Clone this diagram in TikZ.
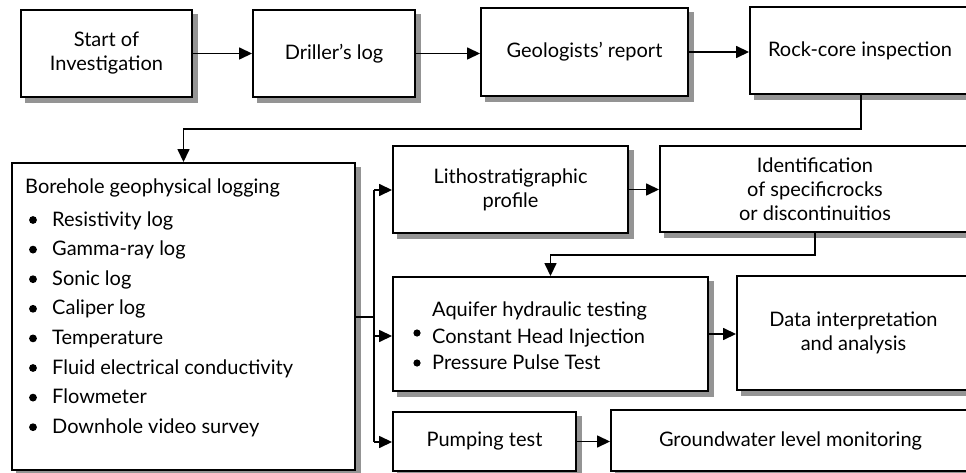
\documentclass[tikz,border=0pt]{standalone}
\usepackage{fontspec}
\setmainfont{Lato}
\usetikzlibrary{arrows.meta}
\pgfdeclarelayer{bg}
\pgfsetlayers{bg,main}
\newcommand\fsz{\fontsize{20}{24}\selectfont}
\begin{document}
\begin{tikzpicture}[x=1pt,y=-1pt,
  box/.style={draw, fill=white, line width=1.9pt, inner sep=0pt, align=center, font=\fsz},
  txt/.style={inner sep=0pt, font=\fsz},
  conn/.style={line width=1.5pt, -{Triangle[length=13pt,width=12pt]}},
  wire/.style={line width=1.5pt},
  shade/.style={fill=black!42},
  dot/.style={fill=black}
]
\useasboundingbox (0,0) rectangle (966,473);
\clip (0,0) rectangle (966,473);

% boxes
\node[box, minimum width=171pt, minimum height=87pt] (start) at (106.5,53.5) {Start of\\Investigation};
\node[box, minimum width=162pt, minimum height=87pt] (driller) at (334,53.5) {Driller's log};
\node[box, minimum width=207pt, minimum height=88pt] (geol) at (584.5,52) {Geologists' report};
\node[box, minimum width=220pt, minimum height=87pt] (rock) at (860,50.5) {Rock-core inspection};
\node[box, minimum width=343pt, minimum height=307pt] (bore) at (183.5,316.5) {};
\node[box, minimum width=235pt, minimum height=87pt] (litho) at (510.5,189.5) {Lithostratigraphic\\profile};
\node[box, minimum width=310pt, minimum height=86pt] (ident) at (815,189) {Identification\\of specificrocks\\or discontinuitios};
\node[box, minimum width=315pt, minimum height=114pt] (aqui) at (550.5,334) {};
\node[box, minimum width=233pt, minimum height=114pt] (data) at (853.5,333) {Data interpretation\\and analysis};
\node[box, minimum width=183pt, minimum height=59pt] (pump) at (484.5,441.5) {Pumping test};
\node[box, minimum width=359pt, minimum height=61pt] (ground) at (790.5,440.5) {Groundwater level monitoring};

% shadows
\begin{pgfonlayer}{bg}
\fill[white] (0,0) rectangle (966,473);
\foreach \n in {start,driller,geol,rock,bore,litho,ident,aqui,data,pump,ground}{
  \fill[shade] ([shift={(5,5)}]\n.north west) rectangle ([shift={(5,5)}]\n.south east);
}
\end{pgfonlayer}

% borehole text
\node[txt, anchor=base west] (bhtitle) at (25,194) {Borehole geophysical logging};
\foreach \t [count=\i] in {Resistivity log, Gamma-ray log, Sonic log, Caliper log, Temperature, Fluid electrical conductivity, Flowmeter, Downhole video survey}{
  \node[txt, anchor=base west] (bh\i) at (52,{226+29.6*(\i-1)}) {\t};
  \fill[dot] (33,{220+29.6*(\i-1)}) circle (3.9pt);
}

% aquifer text
\node[txt, anchor=base west] (aqtitle) at (432,316) {Aquifer hydraulic testing};
\node[txt, anchor=base west] (aq1) at (432,343) {Constant Head Injection};
\node[txt, anchor=base west] (aq2) at (432,369) {Pressure Pulse Test};
\fill[dot] (417,333) circle (3.6pt);
\fill[dot] (417,363) circle (3.6pt);

% connectors top row
\draw[conn] (start.east) -- (driller.west);
\draw[conn] (driller.east) -- (driller.east -| geol.west);
\draw[conn] (geol.east) -- (geol.east -| rock.west);

% rock -> borehole
\coordinate (c1) at (861,129);
\draw[conn] (rock.south -| c1) -- (c1) -| (bore.north);

% borehole bus
\coordinate (bus) at (374,317);
\coordinate (busT) at (374,190);
\coordinate (busM) at (374,336);
\coordinate (busB) at (374,442);
\draw[wire] (bore.east |- bus) -- (bus);
\draw[wire] (busT) -- (busB);
\draw[conn] (busT) -- (busT -| litho.west);
\draw[conn] (busM) -- (busM -| aqui.west);
\draw[conn] (busB) -- (busB -| pump.west);

% litho -> ident
\draw[conn] (litho.east) -- (litho.east -| ident.west);

% ident -> aquifer
\coordinate (c2) at (815,255);
\draw[conn] (ident.south -| c2) -- (c2) -| (aqui.north);

% aquifer -> data
\draw[conn] (aqui.east) -- (aqui.east -| data.west);

% pump -> ground
\draw[conn] (pump.east) -- (pump.east -| ground.west);
\end{tikzpicture}
\end{document}
